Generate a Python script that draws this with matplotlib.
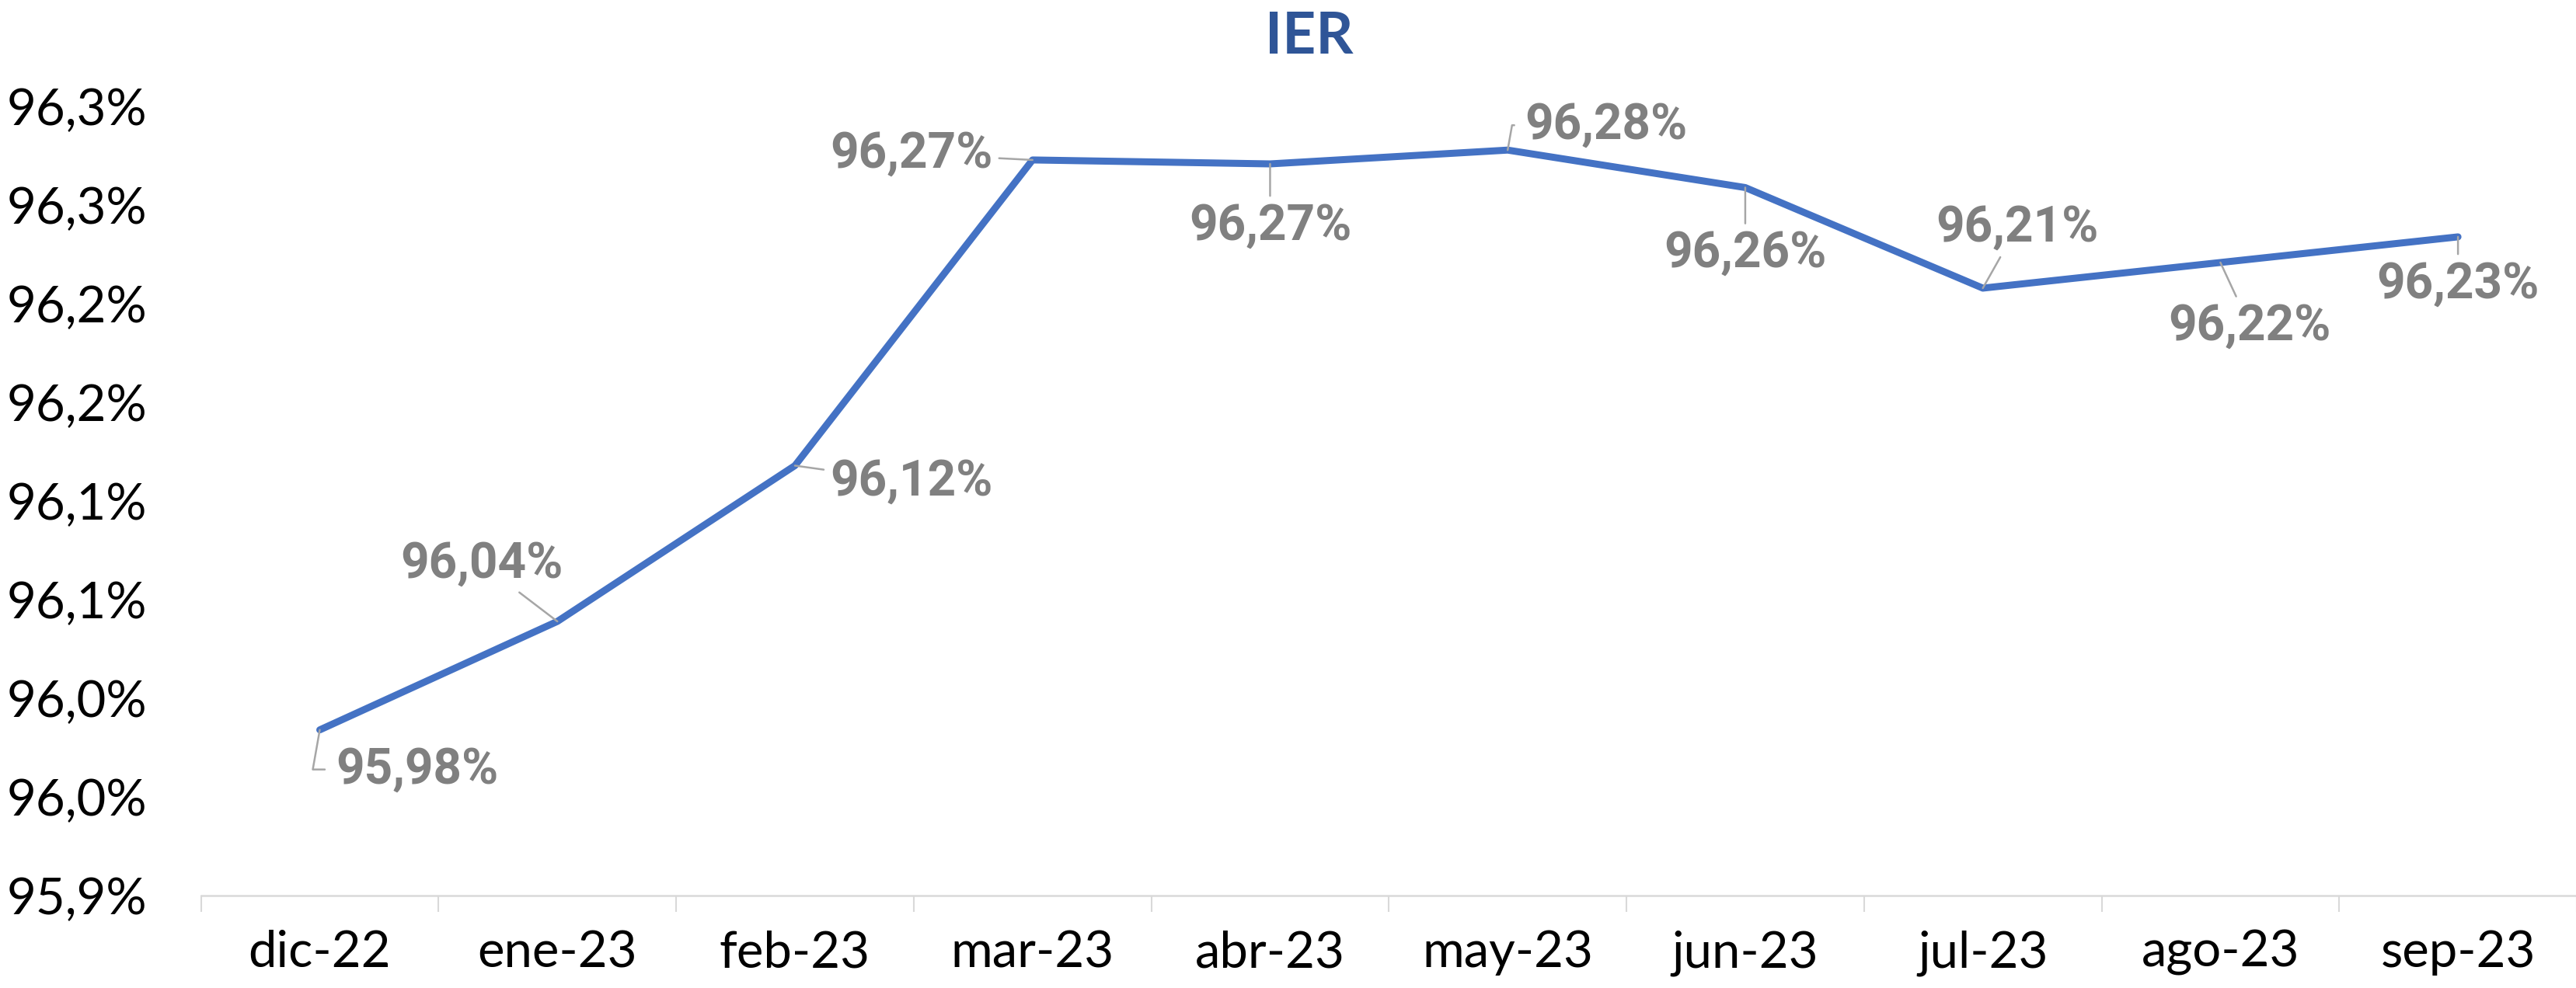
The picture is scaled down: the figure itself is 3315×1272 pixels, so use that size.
import matplotlib
matplotlib.use('Agg')
import matplotlib.pyplot as plt

months = ["dic-22", "ene-23", "feb-23", "mar-23", "abr-23",
          "may-23", "jun-23", "jul-23", "ago-23", "sep-23"]
ier = [95.984, 96.039, 96.118, 96.273, 96.271,
       96.278, 96.259, 96.208, 96.221, 96.234]
y_ticks = [95.90, 95.95, 96.00, 96.05, 96.10, 96.15, 96.20, 96.25, 96.30]
y_tick_labels = ["95,9%", "96,0%", "96,0%", "96,1%", "96,1%",
                 "96,2%", "96,2%", "96,3%", "96,3%"]
# label offsets in pixels (dx, dy)
label_offsets = [(125, -51), (-97, 74), (150, -21), (-156, 8), (0, -80),
                 (127, 32), (0, -85), (44, 78), (38, -82), (0, -61)]
elbow = [True, False, False, False, False, True, False, False, False, False]

fig = plt.figure(figsize=(33.16, 12.72), dpi=100)
ax = fig.add_axes([0.078, 0.0936, 0.922, 0.7984])

x = list(range(len(months)))
ax.plot(x, ier, color="#4472C4", lw=6.5, solid_joinstyle="round",
        solid_capstyle="round", zorder=3)

for i, v in enumerate(ier):
    dx, dy = label_offsets[i]
    ap = dict(arrowstyle="-", color="#A6A6A6", lw=1.8, shrinkA=4, shrinkB=0)
    if elbow[i]:
        ap.update(connectionstyle="angle,angleA=0,angleB=80,rad=0",
                  relpos=(0, 0.5), shrinkA=8)
    ax.annotate(f"{v:.2f}".replace(".", ",") + "%", xy=(i, v),
                xytext=(dx, dy), textcoords="offset pixels",
                ha="center", va="center", fontsize=46, fontweight="bold",
                color="#808080", family=["Roboto", "DejaVu Sans"],
                arrowprops=ap)

ax.set_xlim(-0.5, len(months) - 0.5)
ax.set_ylim(95.90, 96.30)
ax.set_yticks(y_ticks)
ax.set_yticklabels(y_tick_labels, family=["Lato", "DejaVu Sans"])
ax.set_xticks(x)
ax.set_xticklabels(months, family=["Lato", "DejaVu Sans"])
ax.set_xticks([i - 0.5 for i in range(len(months) + 1)], minor=True)

ax.tick_params(axis="y", length=0, pad=50, labelsize=47)
ax.tick_params(axis="x", which="major", length=0, pad=32, labelsize=47)
ax.tick_params(axis="x", which="minor", length=15, width=1.5, color="#D9D9D9")

for s in ["top", "right", "left"]:
    ax.spines[s].set_visible(False)
ax.spines["bottom"].set_color("#D9D9D9")
ax.spines["bottom"].set_linewidth(1.8)

fig.text(0.508, 0.963, "IER", ha="center", va="center", fontsize=54,
         fontweight="bold", color="#2F5597", family=["Lato", "DejaVu Sans"])

fig.savefig("out.png", dpi=100)
